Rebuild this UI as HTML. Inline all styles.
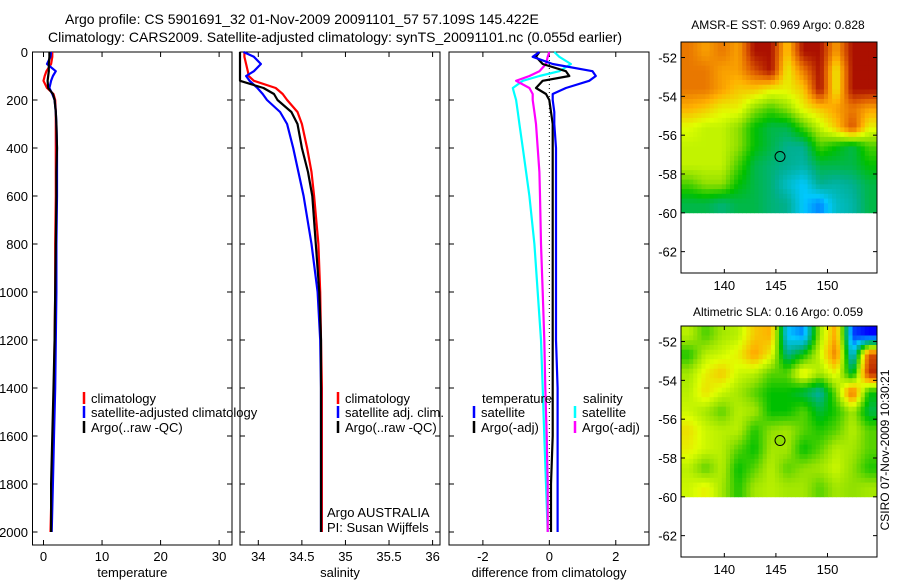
<!DOCTYPE html>
<html><head><meta charset="utf-8"><style>
body{margin:0;background:#fff;}
svg{display:block;font-family:"Liberation Sans",sans-serif;}
text{fill:#000;}
</style></head><body>
<svg id="s" width="900" height="580" viewBox="0 0 900 580">
<text x="65" y="24" font-size="14">Argo profile: CS 5901691_32 01-Nov-2009 20091101_57 57.109S 145.422E</text>
<text x="48" y="42" font-size="14">Climatology: CARS2009. Satellite-adjusted climatology: synTS_20091101.nc (0.055d earlier)</text>
<text x="778" y="29" font-size="12" text-anchor="middle">AMSR-E SST: 0.969 Argo: 0.828</text>
<text x="778" y="316" font-size="12" text-anchor="middle">Altimetric SLA: 0.16 Argo: 0.059</text>
<text transform="translate(889,450) rotate(-90)" font-size="12" text-anchor="middle">CSIRO 07-Nov-2009 10:30:21</text>
</svg>
<script>
const depths=[0,20,50,80,100,120,150,175,200,250,300,400,500,600,800,1000,1200,1400,1600,1800,2000];
const tempClim=[1.5,1.5,1.3,0.5,0.2,0.0,0.6,1.7,2.0,2.1,2.1,2.1,2.1,2.1,2.0,2.0,1.9,1.8,1.6,1.4,1.2];
const tempSat=[1.3,1.2,0.6,2.1,1.6,1.3,1.0,1.5,1.9,2.1,2.2,2.3,2.3,2.3,2.2,2.2,2.1,2.0,1.8,1.6,1.4];
const tempArgo=[1.0,1.0,0.9,0.9,0.8,0.7,0.8,1.6,1.9,2.1,2.2,2.3,2.2,2.2,2.1,2.0,1.9,1.7,1.5,1.3,1.3];
const salClim=[33.84,33.84,33.86,33.88,33.89,33.95,34.2,34.28,34.33,34.45,34.5,34.56,34.61,34.64,34.69,34.71,34.72,34.73,34.73,34.73,34.73];
const salSat=[33.83,33.95,34.03,33.95,33.86,33.9,33.99,34.05,34.1,34.25,34.33,34.4,34.46,34.52,34.61,34.68,34.71,34.72,34.72,34.72,34.72];
const salArgo=[33.79,33.79,33.79,33.79,33.79,33.79,34.06,34.18,34.22,34.38,34.45,34.5,34.57,34.62,34.66,34.70,34.72,34.72,34.72,34.72,34.72];
const dTempSat=[-0.3,-0.5,0.1,1.3,1.4,1.2,0.5,0.1,0.1,0.15,0.15,0.2,0.2,0.2,0.2,0.2,0.2,0.25,0.25,0.25,0.25];
const dTempArgo=[-0.3,-0.4,-0.2,0.5,0.6,-0.2,-0.4,-0.1,0.0,0.05,0.1,0.1,0.1,0.1,0.1,0.1,0.1,0.1,0.1,0.05,0.05];
const dSalSat=[0.15,0.3,0.65,0.3,-0.3,-0.8,-1.1,-1.05,-1.0,-0.95,-0.9,-0.8,-0.7,-0.6,-0.45,-0.35,-0.25,-0.2,-0.15,-0.1,-0.05];
const dSalArgo=[0.0,-0.05,-0.1,-0.3,-0.6,-1.0,-0.6,-0.5,-0.5,-0.45,-0.4,-0.35,-0.3,-0.28,-0.25,-0.2,-0.15,-0.12,-0.08,-0.05,-0.05];
const depthTicks=[0,200,400,600,800,1000,1200,1400,1600,1800,2000];
const tempTicks=[0,10,20,30];
const salTicks=[34,34.5,35,35.5,36];
const diffTicks=[-2,0,2];
const sstGrid=[
[.85,.8,.85,.8,.98,.98,.75,.98,.98,.8,.98,.98],
[.85,.85,.8,.8,.9,.98,.7,.85,.98,.7,.98,.98],
[.85,.85,.8,.75,.75,.7,.7,.75,.98,.7,.98,.98],
[.78,.75,.7,.7,.6,.55,.6,.7,.75,.8,.85,.8],
[.68,.65,.65,.6,.5,.45,.45,.55,.65,.75,.9,.7],
[.65,.65,.65,.6,.5,.45,.4,.4,.55,.5,.45,.55],
[.65,.65,.65,.55,.45,.42,.4,.38,.45,.45,.45,.5],
[.55,.6,.6,.5,.45,.42,.35,.3,.4,.38,.4,.45],
[.45,.45,.42,.45,.45,.42,.4,.3,.25,.35,.38,.45]];
const slaGrid=[
[.64,.55,.62,.64,.75,.78,.3,.25,.62,.8,.2,.15],
[.52,.64,.66,.7,.8,.7,.4,.5,.66,.85,.3,.9],
[.62,.7,.75,.66,.64,.56,.56,.72,.62,.7,.45,.95],
[.64,.72,.66,.62,.56,.5,.5,.45,.38,.58,.88,.5],
[.66,.62,.56,.64,.62,.5,.5,.56,.46,.52,.62,.45],
[.72,.66,.64,.64,.52,.6,.62,.56,.52,.56,.64,.56],
[.7,.66,.64,.56,.5,.62,.62,.5,.56,.64,.62,.56],
[.64,.56,.64,.5,.56,.64,.56,.6,.62,.66,.6,.52],
[.66,.7,.62,.52,.62,.64,.62,.62,.56,.62,.6,.62]];
const latTicks=[-52,-54,-56,-58,-60,-62];
const lonTicks=[140,145,150];
const argoLon=145.4, argoLat=-57.1;

const NS='http://www.w3.org/2000/svg';
const svg=document.getElementById('s');
function mk(tag,attrs,parent){const e=document.createElementNS(NS,tag);for(const k in attrs)e.setAttribute(k,attrs[k]);(parent||svg).appendChild(e);return e;}
function txt(x,y,s,size,anchor){const t=mk('text',{x:x,y:y,'font-size':size,'text-anchor':anchor||'start'});t.textContent=s;return t;}

const Y0=52, YS=0.24, YB=545;
function yD(d){return Y0+d*YS;}

function panel(name,L,R,xmin,xmax,ticks,fmt,label,showY){
  const xf=v=>L+(v-xmin)/(xmax-xmin)*(R-L);
  const g=mk('g',{});
  
  
  const box=mk('rect',{x:L,y:Y0,width:R-L,height:YB-Y0,fill:'none',stroke:'#000','stroke-width':1},g);
  
  
  depthTicks.forEach(d=>{
    mk('line',{x1:L,x2:L+5,y1:yD(d),y2:yD(d),stroke:'#000'},g);
    mk('line',{x1:R,x2:R-5,y1:yD(d),y2:yD(d),stroke:'#000'},g);
    if(showY){const t=txt(28,yD(d)+5,String(d),13,'end');
      
      }
  });
  ticks.forEach(v=>{
    const x=xf(v);
    mk('line',{x1:x,x2:x,y1:YB,y2:YB-5,stroke:'#000'},g);
    mk('line',{x1:x,x2:x,y1:Y0,y2:Y0+5,stroke:'#000'},g);
    const t=txt(x,561,fmt(v),13,'middle');
    
    
  });
  const xl=txt((L+R)/2,577,label,13,'middle');
  
  
  return xf;
}
function series(xf,vals,color,name){
  const pts=vals.map((v,i)=>xf(v).toFixed(1)+','+yD(depths[i]).toFixed(1)).join(' ');
  const p=mk('polyline',{points:pts,fill:'none',stroke:color,'stroke-width':2.2,'stroke-linejoin':'round'});
  
  
}
function legend(x,y,color,label){
  mk('line',{x1:x,x2:x,y1:y-11,y2:y+1,stroke:color,'stroke-width':2.5});
  const t=txt(x+7,y,label,13);
  
  
}

const xT=panel('temperature',32.5,232,-1.88,32.2,tempTicks,v=>String(v),'temperature',true);
series(xT,tempClim,'#f00','temp-climatology-line');
series(xT,tempSat,'#00f','temp-satellite-line');
series(xT,tempArgo,'#000','temp-argo-line');
legend(84,403,'#f00','climatology');
legend(84,417,'#00f','satellite-adjusted climatology');
legend(84,432,'#000','Argo(..raw -QC)');

const xS=panel('salinity',240,440,33.79,36.085,salTicks,v=>String(v),'salinity',false);
series(xS,salClim,'#f00','sal-climatology-line');
series(xS,salSat,'#00f','sal-satellite-line');
series(xS,salArgo,'#000','sal-argo-line');
legend(338,403,'#f00','climatology');
legend(338,417,'#00f','satellite adj. clim.');
legend(338,432,'#000','Argo(..raw -QC)');
const a1=txt(327,517,'Argo AUSTRALIA',13);
const a2=txt(327,532,'PI: Susan Wijffels',13);

const xD=panel('difference',449,649,-3.02,3.0,diffTicks,v=>String(v),'difference from climatology',false);
const zl=mk('line',{x1:xD(0),x2:xD(0),y1:Y0,y2:yD(2000),stroke:'#000','stroke-dasharray':'1,3'});

series(xD,dSalSat,'#0ff','diff-sal-satellite-line');
series(xD,dSalArgo,'#f0f','diff-sal-argo-line');
series(xD,dTempArgo,'#000','diff-temp-argo-line');
series(xD,dTempSat,'#00f','diff-temp-satellite-line');
const h1=txt(482,403,'temperature',13);
const h2=txt(583,403,'salinity',13);
legend(474,417,'#00f','satellite');
legend(474,432,'#000','Argo(-adj)');
legend(575,417,'#0ff','satellite');
legend(575,432,'#f0f','Argo(-adj)');

const cstops=[[0,[0,0,128]],[.15,[0,0,255]],[.3,[0,200,255]],[.4,[0,176,144]],[.5,[0,192,0]],[.6,[144,224,0]],[.68,[224,255,0]],[.78,[255,176,0]],[.88,[224,96,0]],[1,[160,0,0]]];
function cmap(v){for(let i=1;i<cstops.length;i++){if(v<=cstops[i][0]){const a=cstops[i-1],b=cstops[i],t=(v-a[0])/(b[0]-a[0]);return 'rgb('+a[1].map((c,k)=>Math.round(c+(b[1][k]-c)*t)).join(',')+')';}}return 'rgb(160,0,0)';}

function sample(grid,fr,fc){
  const rows=grid.length,cols=grid[0].length;
  const r=Math.max(0,Math.min(rows-1,fr)),c=Math.max(0,Math.min(cols-1,fc));
  const r0=Math.floor(r),c0=Math.floor(c),r1=Math.min(rows-1,r0+1),c1=Math.min(cols-1,c0+1);
  const tr=r-r0,tc=c-c0;
  return (grid[r0][c0]*(1-tc)+grid[r0][c1]*tc)*(1-tr)+(grid[r1][c0]*(1-tc)+grid[r1][c1]*tc)*tr;
}

function map(name,top,grid,filled){
  const L=681,R=877,B=top+231;
  const lonMin=135.8,lonMax=154.8,latTop=-51.2,latBot=-63.1;
  const xf=v=>L+(v-lonMin)/(lonMax-lonMin)*(R-L);
  const yf=v=>top+(latTop-v)/(latTop-latBot)*(B-top);
  const g=mk('g',{});
  
  
  const rows=grid.length,cols=grid[0].length,UP=4;
  const x0=xf(lonMin),x1=xf(lonMax),y0=yf(latTop),y1=yf(-60);
  const cw=(x1-x0)/(cols*UP),ch=(y1-y0)/(rows*UP);
  for(let i=0;i<rows*UP;i++)for(let j=0;j<cols*UP;j++){
    const v=sample(grid,(i+0.5)/UP-0.5,(j+0.5)/UP-0.5);
    const cell=mk('rect',{x:(x0+j*cw).toFixed(2),y:(y0+i*ch).toFixed(2),width:(cw+0.4).toFixed(2),height:(ch+0.4).toFixed(2),fill:cmap(v)},g);
    
    
  }
  mk('rect',{x:L,y:top,width:R-L,height:B-top,fill:'none',stroke:'#000'},g);
  latTicks.forEach(v=>{const y=yf(v);mk('line',{x1:L,x2:L+4,y1:y,y2:y,stroke:'#000'},g);mk('line',{x1:R,x2:R-4,y1:y,y2:y,stroke:'#000'},g);
    const t=txt(677,y+5,String(v),13,'end');});
  lonTicks.forEach(v=>{const x=xf(v);mk('line',{x1:x,x2:x,y1:B,y2:B-4,stroke:'#000'},g);mk('line',{x1:x,x2:x,y1:top,y2:top+4,stroke:'#000'},g);
    const t=txt(x,B+17,String(v),13,'middle');});
  const m=mk('circle',{cx:xf(argoLon),cy:yf(argoLat),r:5,fill:filled?cmap(0.6):'none',stroke:'#000','stroke-width':1},g);
  
  
}
map('sst',42,sstGrid,false);
map('sla',326,slaGrid,true);
</script>
</body></html>
